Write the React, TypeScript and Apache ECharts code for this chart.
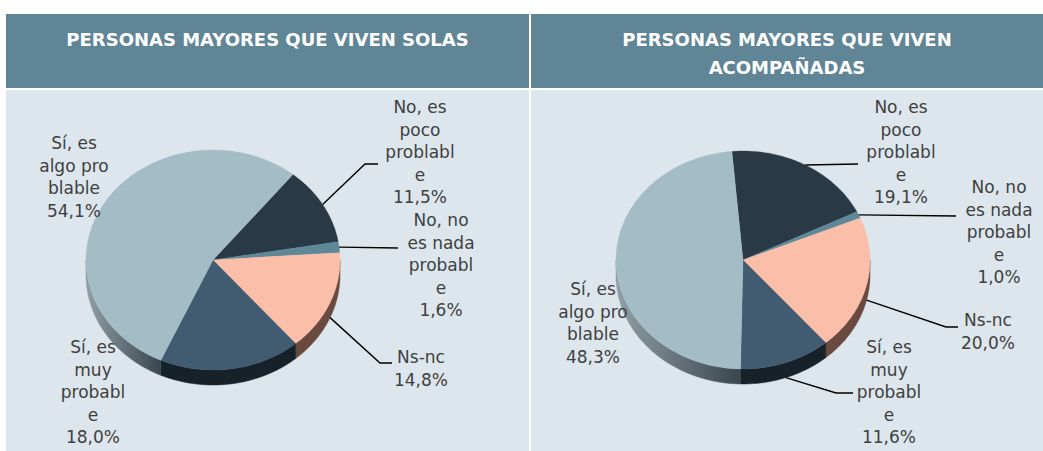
import React, { useEffect, useRef } from "react";
import * as echarts from "echarts";

// ---- data ----
const categories = [
  "No, es\npoco\nproblabl\ne",
  "No, no\nes nada\nprobabl\ne",
  "Ns-nc",
  "Sí, es\nmuy\nprobabl\ne",
  "Sí, es\nalgo pro\nblable",
];
const solasValues = [11.5, 1.6, 14.8, 18.0, 54.1];
const acompValues = [19.1, 1.0, 20.0, 11.6, 48.3];
const titles = ["PERSONAS MAYORES QUE VIVEN SOLAS", "PERSONAS MAYORES QUE VIVEN\nACOMPAÑADAS"];

// ---- styles ----
const topColors = ["#293a46", "#5e8898", "#fbbea8", "#415c70", "#a4bcc6"];
const sideColors: any[] = [
  "#18232b",
  "#3a5560",
  "#6a4a3f",
  "#16212a",
  {
    type: "linear", x: 0, y: 0, x2: 1, y2: 0,
    colorStops: [
      { offset: 0, color: "#909ea5" },
      { offset: 1, color: "#3a464d" },
    ],
  },
];
const FONT = "DejaVu Sans";
const LH = 22.6;

type LabelLayout = { tx: number; ty: number; pts: number[][] | null };

const pies = [
  {
    values: solasValues,
    cx: 213, cy: 260, rx: 127, ry: 110, depth: 15, start: 39,
    labels: [
      { tx: 420, ty: 107, pts: [[365, 164], [378, 164]] },
      { tx: 441, ty: 220, pts: [[398, 248]] },
      { tx: 421, ty: 357, pts: [[380, 363], [392, 363]] },
      { tx: 93, ty: 347, pts: null },
      { tx: 74, ty: 143, pts: null },
    ] as LabelLayout[],
  },
  {
    values: acompValues,
    cx: 743, cy: 260, rx: 127, ry: 109, depth: 15, start: -5,
    labels: [
      { tx: 901, ty: 107, pts: [[858, 164]] },
      { tx: 999, ty: 187, pts: [[956, 216]] },
      { tx: 988, ty: 320, pts: [[946, 327], [958, 327]] },
      { tx: 889, ty: 347, pts: [[836, 393], [853, 393]] },
      { tx: 593, ty: 289, pts: null },
    ] as LabelLayout[],
  },
];

const fmt = (v: number) => v.toFixed(1).replace(".", ",") + "%";

function buildSeries(pie: any) {
  const total = pie.values.reduce((a: number, b: number) => a + b, 0);
  let cum = 0;
  const data = pie.values.map((v: number, i: number) => {
    const item = { name: categories[i], value: [v, cum] };
    cum += v;
    return item;
  });
  const pt = (deg: number, dy = 0) => {
    const r = (deg * Math.PI) / 180;
    return [pie.cx + pie.rx * Math.sin(r), pie.cy - pie.ry * Math.cos(r) + dy];
  };
  const arc = (from: number, to: number, dy: number) => {
    const out: number[][] = [];
    const n = Math.max(2, Math.ceil(Math.abs(to - from)));
    for (let k = 0; k <= n; k++) out.push(pt(from + ((to - from) * k) / n, dy));
    return out;
  };
  return {
    type: "custom",
    coordinateSystem: "none",
    data,
    renderItem: (params: any, api: any) => {
      const i = params.dataIndex;
      const v = api.value(0);
      const c = api.value(1);
      const a1 = pie.start + (c / total) * 360;
      const a2 = a1 + (v / total) * 360;
      const children: any[] = [];
      for (let k = -1; k <= 1; k++) {
        const lo = Math.max(a1, 90 + 360 * k);
        const hi = Math.min(a2, 270 + 360 * k);
        if (hi > lo) {
          children.push({
            type: "polygon",
            shape: { points: [...arc(lo, hi, 0), ...arc(hi, lo, pie.depth)] },
            style: { fill: sideColors[i], stroke: sideColors[i], lineWidth: 0.5 },
          });
        }
      }
      children.push({
        type: "polygon",
        shape: { points: [[pie.cx, pie.cy], ...arc(a1, a2, 0)] },
        style: { fill: topColors[i], stroke: topColors[i], lineWidth: 0.3 },
      });
      const lab: LabelLayout = pie.labels[i];
      if (lab.pts) {
        const mid = (a1 + a2) / 2;
        const lower = Math.cos((mid * Math.PI) / 180) < 0;
        const s = pt(mid, lower ? pie.depth : 0);
        children.push({
          type: "polyline",
          z2: 50,
          shape: { points: [s, ...lab.pts] },
          style: { stroke: "#000000", lineWidth: 1.4, fill: null },
        });
      }
      children.push({
        type: "text",
        z2: 60,
        style: {
          text: categories[i] + "\n" + fmt(v),
          x: lab.tx,
          y: lab.ty - LH / 2,
          align: "center",
          verticalAlign: "top",
          lineHeight: LH,
          fontSize: 17,
          fontFamily: FONT,
          fill: "#404040",
        },
      });
      return { type: "group", children };
    },
  };
}

export default function App() {
  const ref = useRef<HTMLDivElement>(null);
  useEffect(() => {
    document.body.style.margin = "0";
    const chart = echarts.init(ref.current!, null, { renderer: "svg" });
    const panels = [
      { x: 6, w: 523 },
      { x: 531, w: 512 },
    ];
    const graphic: any[] = [];
    panels.forEach((p, idx) => {
      graphic.push({
        type: "rect",
        shape: { x: p.x, y: 14, width: p.w, height: 74 },
        style: { fill: "#5f8596" },
      });
      graphic.push({
        type: "rect",
        shape: { x: p.x, y: 90, width: p.w, height: 361 },
        style: { fill: "#dde6ec" },
      });
      graphic.push({
        type: "text",
        style: {
          text: titles[idx],
          x: p.x + p.w / 2,
          y: 39 - 14,
          align: "center",
          verticalAlign: "top",
          lineHeight: 28,
          fontSize: 18,
          fontWeight: "bold",
          fontFamily: FONT,
          fill: "#ffffff",
        },
      });
    });
    chart.setOption({
      animation: false,
      graphic,
      series: pies.map(buildSeries),
    });
    return () => chart.dispose();
  }, []);
  return <div ref={ref} style={{ width: 1043, height: 451 }} />;
}
